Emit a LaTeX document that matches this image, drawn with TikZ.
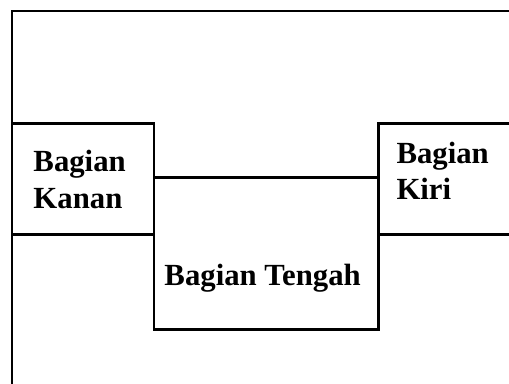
\documentclass[tikz,border=0pt]{standalone}
\usepackage{fontspec}
\setmainfont{Liberation Serif}
\begin{document}
\begin{tikzpicture}[x=0.02cm,y=-0.02cm,line width=1.7pt,line join=miter,
	lbl/.style={inner sep=0pt,anchor=base west,font=\bfseries\fontsize{17.5}{21}\selectfont}]
	\def \xmin{0}\def \xmax{509}\def \ymin{0}\def \ymax{383}
	\useasboundingbox (\xmin,\ymin) rectangle (\xmax,\ymax);
	\clip (\xmin,\ymin) rectangle (\xmax,\ymax);
	% outer frame
	\draw (12,\ymax+10) -- (12,11) -- (\xmax+10,11);
	% left, middle and right parts
	\draw (12,123) rectangle (154,234);
	\draw (154,177) rectangle (378,329);
	\draw (\xmax+10,123) -- (378,123) -- (378,234) -- (\xmax+10,234);
	% labels
	\node[lbl] (kanan1) at (32,171) {Bagian};
	\node[lbl] (kanan2) at (32,208) {Kanan};
	\node[lbl] (kiri1) at (395,163) {Bagian};
	\node[lbl] (kiri2) at (395,199) {Kiri};
	\node[lbl] (tengah) at (163,285) {Bagian Tengah};
\end{tikzpicture}
\end{document}
